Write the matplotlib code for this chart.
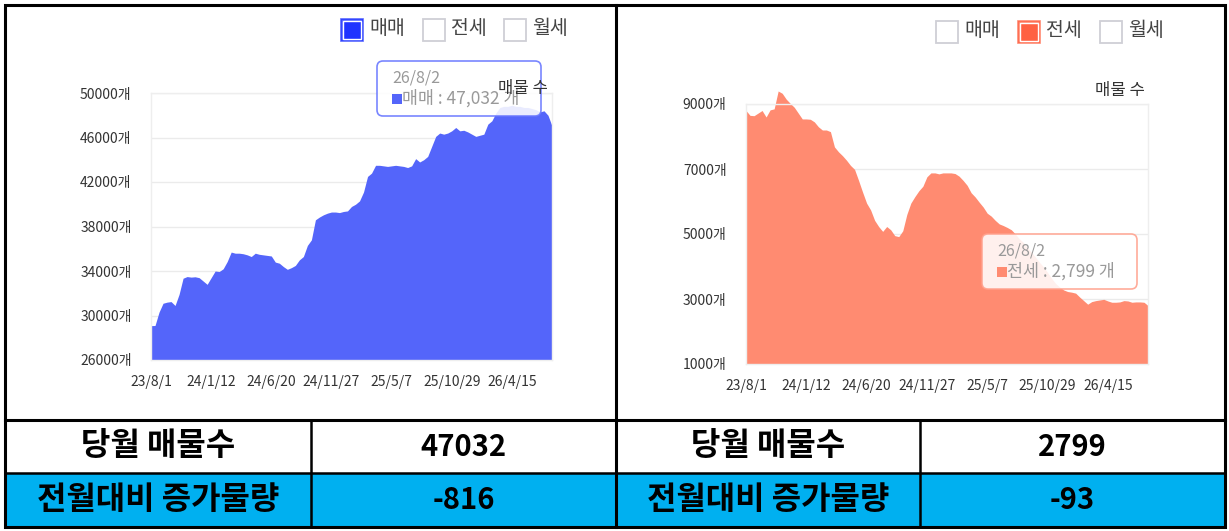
import matplotlib
matplotlib.use("Agg")
import matplotlib.pyplot as plt
from matplotlib.patches import Rectangle, FancyBboxPatch
import numpy as np

plt.rcParams['font.family'] = ['Noto Sans CJK KR', 'DejaVu Sans']

# ---------------- data ----------------
series_names = ["매매", "전세", "월세"]
x_tick_labels = ["23/8/1", "24/1/12", "24/6/20", "24/11/27", "25/5/7", "25/10/29", "26/4/15"]
last_date = "26/8/2"
unit = "개"
axis_title = "매물 수"

sale_counts = [
    29090, 29100, 30300, 31100, 31200, 31250, 30900, 31900, 33350, 33500,
    33450, 33480, 33400, 33100, 32800, 33400, 34000, 33950, 34200, 34850,
    35700, 35600, 35600, 35550, 35450, 35300, 35600, 35500, 35450, 35400,
    35350, 34800, 34700, 34400, 34150, 34300, 34500, 35000, 35300, 36300,
    36800, 38600, 38850, 39050, 39200, 39300, 39300, 39250, 39350, 39400,
    39800, 40000, 40300, 41100, 42500, 42800, 43500, 43500, 43450, 43400,
    43450, 43500, 43450, 43400, 43300, 43450, 44100, 43800, 44000, 44300,
    45200, 46100, 46400, 46300, 46400, 46600, 46900, 46600, 46650, 46500,
    46300, 46100, 46200, 46300, 47200, 47500, 48200, 48700, 48800, 48800,
    48900, 48800, 48800, 48700, 48700, 48600, 48500, 48300, 48400, 48000,
    47032,
]
jeonse_counts = [
    8800, 8650, 8640, 8720, 8800, 8600, 8820, 8850, 9400, 9330,
    9150, 9020, 8900, 8720, 8540, 8540, 8530, 8450, 8300, 8200,
    8200, 8150, 7680, 7530, 7410, 7270, 7110, 6990, 6650, 6290,
    5950, 5740, 5420, 5230, 5080, 5230, 5130, 4950, 4920, 5100,
    5600, 5950, 6150, 6330, 6470, 6760, 6880, 6880, 6850, 6880,
    6880, 6880, 6860, 6780, 6650, 6500, 6270, 6140, 5980, 5830,
    5640, 5550, 5420, 5310, 5260, 5200, 5130, 5000, 4850, 4740,
    4580, 4440, 4290, 4130, 3990, 3820, 3640, 3480, 3370, 3280,
    3230, 3210, 3180, 3060, 2950, 2840, 2920, 2950, 2970, 2990,
    2940, 2900, 2900, 2910, 2950, 2940, 2900, 2910, 2910, 2900,
    2799,
]
sale_yticks = [26000, 30000, 34000, 38000, 42000, 46000, 50000]
jeonse_yticks = [1000, 3000, 5000, 7000, 9000]

row_labels = ["당월 매물수", "전월대비 증가물량"]
sale_table = [47032, -816]
jeonse_table = [2799, -93]

# ---------------- style ----------------
sale_color = "#5465FA"
jeonse_color = "#FF8B71"
sale_legend = "#1F33FF"
jeonse_legend = "#FF6142"
table_blue = "#00B0F0"
tick_step = 15

W, H = 1229, 531
fig = plt.figure(figsize=(W / 100, H / 100), dpi=100)
fig.patch.set_facecolor("white")


def px_axes(x0, y0, x1, y1, **kw):
    return fig.add_axes([x0 / W, 1 - y1 / H, (x1 - x0) / W, (y1 - y0) / H], **kw)


def draw_chart(ax, values, color, yticks):
    x = np.arange(len(values))
    ax.fill_between(x, values, yticks[0], color=color, lw=0,
                    clip_on=False, zorder=2)
    ax.set_xlim(0, len(values) - 1)
    ax.set_ylim(yticks[0], yticks[-1])
    ax.set_yticks(yticks)
    ax.set_yticklabels([f"{v}{unit}" for v in yticks])
    ax.set_xticks(np.arange(len(x_tick_labels)) * tick_step)
    ax.set_xticklabels(x_tick_labels)
    ax.grid(axis="y", color="#ebebeb", lw=1, zorder=0)
    ax.set_axisbelow(True)
    for s in ax.spines.values():
        s.set_color("#eeeeee")
        s.set_linewidth(1)
    ax.tick_params(axis="y", length=0, pad=14, labelsize=10, colors="#333333")
    ax.tick_params(axis="x", length=0, pad=11, labelsize=10, colors="#333333")


ax1 = px_axes(151, 93, 552, 360)
draw_chart(ax1, sale_counts, sale_color, sale_yticks)
ax2 = px_axes(746, 104, 1148, 364)
draw_chart(ax2, jeonse_counts, jeonse_color, jeonse_yticks)

# ---------------- overlay ----------------
ov = fig.add_axes([0, 0, 1, 1], zorder=10)
ov.set_xlim(0, W)
ov.set_ylim(H, 0)
ov.axis("off")
ov.patch.set_alpha(0)


def legend(xs_box, y_c, active, act_color):
    for i, (bx, name) in enumerate(zip(xs_box, series_names)):
        if i == active:
            ov.add_patch(Rectangle((bx, y_c - 11), 22, 22, facecolor=act_color,
                                   edgecolor=act_color, lw=1.2, alpha=0.75))
            ov.add_patch(Rectangle((bx + 2, y_c - 9), 18, 18, facecolor=act_color,
                                   edgecolor="white", lw=1.0))
        else:
            ov.add_patch(Rectangle((bx, y_c - 11), 22, 22, facecolor="white",
                                   edgecolor="#cfcfd6", lw=1.3))
        ov.text(bx + 28, y_c - 1, name, ha="left", va="center", fontsize=14,
                color="#444444")


legend([341, 423, 504], 29.5, 0, sale_legend)
legend([936, 1018, 1100], 32, 1, jeonse_legend)


def tooltip(x0, y0, x1, y1, edge, sq_color, name, value):
    ov.add_patch(FancyBboxPatch((x0, y0), x1 - x0, y1 - y0,
                                boxstyle="round,pad=0,rounding_size=6",
                                facecolor="white", edgecolor=edge, lw=1.2,
                                alpha=0.88, zorder=5))
    ov.text(x0 + 15, y0 + 17, last_date, ha="left", va="center", fontsize=11.5,
            color="#999999", zorder=6)
    ov.add_patch(Rectangle((x0 + 15, y0 + 33), 10, 10, facecolor=sq_color,
                           edgecolor="none", zorder=6))
    ov.text(x0 + 25, y0 + 37, f"{name} : {value:,} {unit}", ha="left",
            va="center", fontsize=12.5, color="#999999", zorder=6)


tooltip(377, 61, 541, 116, "#6675FF", sale_color, series_names[0], sale_counts[-1])
tooltip(982, 234, 1137, 289, "#FFA08C", jeonse_color, series_names[1], jeonse_counts[-1])

ov.text(548, 88, axis_title, ha="right", va="center", fontsize=12,
        color="#333333", zorder=7)
ov.text(1145, 90, axis_title, ha="right", va="center", fontsize=12,
        color="#333333", zorder=7)

# ---------------- table ----------------
ov.add_patch(Rectangle((5, 473), 1220, 54, facecolor=table_blue, edgecolor="none",
                       zorder=1))
lw = 2.2
ov.add_patch(Rectangle((5, 5), 1220, 522, facecolor="none", edgecolor="black",
                       lw=lw, zorder=8))
ov.plot([616, 616], [5, 527], color="black", lw=lw, zorder=8)
ov.plot([5, 1225], [420, 420], color="black", lw=lw, zorder=8)
ov.plot([5, 1225], [473, 473], color="black", lw=1.8, zorder=8)
ov.plot([311, 311], [420, 527], color="black", lw=1.8, zorder=8)
ov.plot([920, 920], [420, 527], color="black", lw=1.8, zorder=8)

row_y = [446.5, 500]
for ry, lab, sv, jv in zip(row_y, row_labels, sale_table, jeonse_table):
    ov.text(158, ry, lab, ha="center", va="center", fontsize=23,
            fontweight="bold", color="black", zorder=9)
    ov.text(463.5, ry, f"{sv}", ha="center", va="center", fontsize=21,
            fontweight="bold", color="black", zorder=9)
    ov.text(768, ry, lab, ha="center", va="center", fontsize=23,
            fontweight="bold", color="black", zorder=9)
    ov.text(1072.5, ry, f"{jv}", ha="center", va="center", fontsize=21,
            fontweight="bold", color="black", zorder=9)

fig.savefig("out.png", dpi=100, facecolor="white")
